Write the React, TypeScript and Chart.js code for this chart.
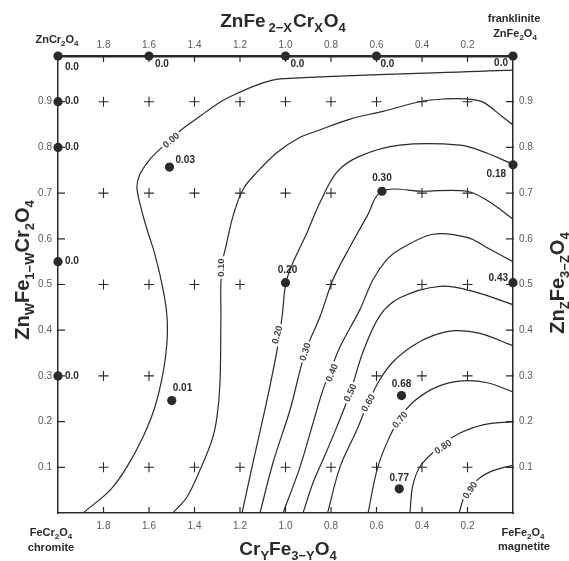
import React, { useEffect, useRef } from 'react';
import { Chart, registerables } from 'chart.js';

Chart.register(...registerables);

const FONT = '"Liberation Sans", Arial, Helvetica, sans-serif';
const INK = '#2a2a2a';

// ---- axis ticks ----
const xTickValues = [1.8, 1.6, 1.4, 1.2, 1.0, 0.8, 0.6, 0.4, 0.2];
const yTickValues = [0.1, 0.2, 0.3, 0.4, 0.5, 0.6, 0.7, 0.8, 0.9];

// ---- measured compositions (filled circles) ----
const dotX = [2.0, 1.6, 1.0, 0.6, 0.0, 2.0, 2.0, 2.0, 2.0, 1.51, 1.5, 0.576, 1.0, 0.0, 0.0, 0.49, 0.5];
const dotY = [1.0, 1.0, 1.0, 1.0, 1.0, 0.9, 0.8, 0.55, 0.3, 0.757, 0.246, 0.704, 0.504, 0.762, 0.504, 0.257, 0.053];
const dotLabels = ['0.0', '0.0', '0.0', '0.0', '0.0', '0.0', '0.0', '0.0', '0.0', '0.03', '0.01', '0.30', '0.20', '0.18', '0.43', '0.68', '0.77'];

// ---- grid nodes (+) ----
const crossX = [
  1.8, 1.6, 1.4, 1.2, 1.0, 0.8, 0.6, 0.4, 0.2,
  1.8, 1.6, 1.4, 1.2, 1.0, 0.8, 0.4, 0.2,
  1.8, 1.6, 1.4, 1.2, 0.8, 0.4, 0.2,
  1.8, 1.6, 0.6, 0.4, 0.2,
  1.8, 1.6, 1.4, 1.2, 1.0, 0.8, 0.6, 0.4, 0.2,
];
const crossY = [
  0.9, 0.9, 0.9, 0.9, 0.9, 0.9, 0.9, 0.9, 0.9,
  0.7, 0.7, 0.7, 0.7, 0.7, 0.7, 0.7, 0.7,
  0.5, 0.5, 0.5, 0.5, 0.5, 0.5, 0.5,
  0.3, 0.3, 0.3, 0.3, 0.3,
  0.1, 0.1, 0.1, 0.1, 0.1, 0.1, 0.1, 0.1, 0.1,
];

// ---- contour lines ----
const contourLevels = ['0.00', '0.10', '0.20', '0.30', '0.40', '0.50', '0.60', '0.70', '0.80', '0.90'];
const contour000: number[][] = [[1.890, 0], [1.771, 0.050], [1.697, 0.101], [1.626, 0.167], [1.574, 0.232], [1.538, 0.307], [1.521, 0.373], [1.521, 0.430], [1.538, 0.489], [1.574, 0.566], [1.609, 0.621], [1.633, 0.664], [1.653, 0.712], [1.640, 0.741], [1.596, 0.774], [1.543, 0.800], [1.464, 0.836], [1.376, 0.868], [1.288, 0.899], [1.200, 0.921], [1.112, 0.939], [1.024, 0.950], [0, 0.969]];
const contour010: number[][] = [[1.495, 0], [1.433, 0.035], [1.376, 0.094], [1.323, 0.160], [1.301, 0.211], [1.288, 0.285], [1.284, 0.430], [1.284, 0.504], [1.275, 0.555], [1.262, 0.583], [1.231, 0.649], [1.187, 0.708], [1.125, 0.746], [1.037, 0.789], [0.936, 0.822], [0.862, 0.836], [0.716, 0.862], [0.571, 0.879], [0.400, 0.901], [0.299, 0.906], [0.202, 0.906], [0.132, 0.899], [0.044, 0.866], [0, 0.849]];
const contour020: number[][] = [[1.191, 0], [1.143, 0.110], [1.081, 0.248], [1.037, 0.357], [1.015, 0.430], [0.998, 0.504], [0.967, 0.548], [0.905, 0.614], [0.848, 0.680], [0.774, 0.746], [0.673, 0.781], [0.497, 0.805], [0.233, 0.805], [0.123, 0.789], [0, 0.763]];
const contour030: number[][] = [[1.112, 0], [1.055, 0.110], [0.980, 0.226], [0.914, 0.351], [0.848, 0.430], [0.791, 0.511], [0.716, 0.583], [0.642, 0.649], [0.576, 0.704], [0.396, 0.704], [0.202, 0.704], [0.101, 0.680], [0, 0.643]];
const contour040: number[][] = [[1.011, 0], [0.936, 0.101], [0.879, 0.197], [0.835, 0.270], [0.796, 0.320], [0.760, 0.364], [0.673, 0.445], [0.615, 0.511], [0.554, 0.555], [0.497, 0.577], [0.352, 0.610], [0.202, 0.603], [0.101, 0.577], [0, 0.550]];
const contour050: number[][] = [[0.923, 0], [0.879, 0.066], [0.826, 0.127], [0.774, 0.189], [0.716, 0.263], [0.659, 0.353], [0.585, 0.432], [0.497, 0.471], [0.321, 0.496], [0.176, 0.485], [0, 0.456]];
const contour060: number[][] = [[0.815, 0], [0.760, 0.101], [0.686, 0.182], [0.637, 0.241], [0.585, 0.292], [0.527, 0.331], [0.440, 0.366], [0.352, 0.388], [0.255, 0.399], [0.145, 0.393], [0, 0.366]];
const contour070: number[][] = [[0.637, 0], [0.598, 0.094], [0.554, 0.154], [0.497, 0.208], [0.431, 0.246], [0.334, 0.276], [0.224, 0.289], [0.114, 0.285], [0, 0.265]];
const contour080: number[][] = [[0.453, 0], [0.440, 0.061], [0.404, 0.105], [0.308, 0.151], [0.233, 0.175], [0.132, 0.193], [0, 0.200]];
const contour090: number[][] = [[0.237, 0], [0.211, 0.039], [0.158, 0.072], [0.101, 0.090], [0, 0.105]];
const contours = [contour000, contour010, contour020, contour030, contour040, contour050, contour060, contour070, contour080, contour090];

// contour label anchors (data coords)
const contourLabelX = [1.503, 1.284, 1.037, 0.914, 0.796, 0.716, 0.637, 0.497, 0.308, 0.189];
const contourLabelY = [0.816, 0.537, 0.390, 0.353, 0.307, 0.263, 0.241, 0.204, 0.145, 0.050];

// ---- styling for annotations ----
const contourLabelAngles = [-40, -90, -75, -72, -68, -65, -60, -50, -33, -55];
const dotLabelStyle: { dx: number; dy: number; align: CanvasTextAlign }[] = [
  { dx: 7, dy: 11, align: 'left' },
  { dx: 6, dy: 8, align: 'left' },
  { dx: 5, dy: 8, align: 'left' },
  { dx: 4, dy: 8, align: 'left' },
  { dx: -5, dy: 7, align: 'right' },
  { dx: 7, dy: 0, align: 'left' },
  { dx: 7, dy: 0, align: 'left' },
  { dx: 7, dy: 0, align: 'left' },
  { dx: 7, dy: 0, align: 'left' },
  { dx: 6, dy: -7, align: 'left' },
  { dx: 1, dy: -12, align: 'left' },
  { dx: 0, dy: -13, align: 'center' },
  { dx: 2, dy: -12, align: 'center' },
  { dx: -7, dy: 9, align: 'right' },
  { dx: -5, dy: -4, align: 'right' },
  { dx: 0, dy: -11, align: 'center' },
  { dx: 0, dy: -11, align: 'center' },
];

type Seg = { t: string; sub?: boolean; gap?: number };

function drawRich(
  ctx: CanvasRenderingContext2D,
  segs: Seg[],
  x: number,
  y: number,
  size: number,
  subSize: number,
  shift: number,
  angle = 0,
) {
  ctx.save();
  ctx.translate(x, y);
  ctx.rotate(angle);
  const mf = `bold ${size}px ${FONT}`;
  const sf = `bold ${subSize}px ${FONT}`;
  let w = 0;
  for (const s of segs) {
    ctx.font = s.sub ? sf : mf;
    w += ctx.measureText(s.t).width + (s.gap || 0);
  }
  let cx = -w / 2;
  ctx.textAlign = 'left';
  ctx.textBaseline = 'alphabetic';
  ctx.fillStyle = INK;
  for (const s of segs) {
    ctx.font = s.sub ? sf : mf;
    cx += s.gap || 0;
    ctx.fillText(s.t, cx, s.sub ? shift : 0);
    cx += ctx.measureText(s.t).width;
  }
  ctx.restore();
}

const annotationPlugin = {
  id: 'annotations',
  beforeDatasetsDraw(chart: any) {
    const { ctx, chartArea: a, scales } = chart;
    ctx.save();
    ctx.strokeStyle = INK;
    ctx.lineWidth = 1.2;
    ctx.beginPath();
    for (const v of xTickValues) {
      const px = scales.x.getPixelForValue(v);
      ctx.moveTo(px, a.bottom);
      ctx.lineTo(px, a.bottom - 6);
      ctx.moveTo(px, a.top);
      ctx.lineTo(px, a.top + 6);
    }
    for (const v of yTickValues) {
      const py = scales.y.getPixelForValue(v);
      ctx.moveTo(a.left - 1, py);
      ctx.lineTo(a.left + 7, py);
      ctx.moveTo(a.right + 1, py);
      ctx.lineTo(a.right - 7, py);
    }
    ctx.stroke();
    ctx.restore();
  },
  afterDatasetsDraw(chart: any) {
    const { ctx, scales } = chart;
    ctx.save();
    // contour labels
    for (let i = 0; i < contourLevels.length; i++) {
      const px = scales.x.getPixelForValue(contourLabelX[i]);
      const py = scales.y.getPixelForValue(contourLabelY[i]);
      ctx.save();
      ctx.translate(px, py);
      ctx.rotate((contourLabelAngles[i] * Math.PI) / 180);
      ctx.font = `bold 9.5px ${FONT}`;
      const w = ctx.measureText(contourLevels[i]).width;
      ctx.fillStyle = '#ffffff';
      ctx.fillRect(-w / 2 - 2, -5, w + 4, 10);
      ctx.fillStyle = '#444';
      ctx.textAlign = 'center';
      ctx.textBaseline = 'middle';
      ctx.fillText(contourLevels[i], 0, 0.5);
      ctx.restore();
    }
    // dot value labels
    ctx.font = `bold 10px ${FONT}`;
    ctx.fillStyle = INK;
    ctx.textBaseline = 'middle';
    for (let i = 0; i < dotLabels.length; i++) {
      const px = scales.x.getPixelForValue(dotX[i]);
      const py = scales.y.getPixelForValue(dotY[i]);
      const st = dotLabelStyle[i];
      ctx.textAlign = st.align;
      ctx.fillText(dotLabels[i], px + st.dx, py + st.dy);
    }
    ctx.restore();
  },
  afterDraw(chart: any) {
    const { ctx } = chart;
    ctx.save();
    // axis titles
    drawRich(ctx, [{ t: 'ZnFe' }, { t: '2\u2212X', sub: true, gap: 3 }, { t: 'Cr', gap: 1 }, { t: 'X', sub: true }, { t: 'O', gap: 1 }, { t: '4', sub: true }], 283, 27, 19, 13, 5);
    drawRich(ctx, [{ t: 'Cr' }, { t: 'Y', sub: true }, { t: 'Fe' }, { t: '3\u2212Y', sub: true }, { t: 'O' }, { t: '4', sub: true }], 288, 555, 19, 13, 5);
    drawRich(ctx, [{ t: 'Zn' }, { t: 'W', sub: true }, { t: 'Fe' }, { t: '1\u2212W', sub: true }, { t: 'Cr' }, { t: '2', sub: true }, { t: 'O' }, { t: '4', sub: true }], 29, 270, 20, 13, 5, -Math.PI / 2);
    drawRich(ctx, [{ t: 'Zn' }, { t: 'Z', sub: true }, { t: 'Fe' }, { t: '3\u2212Z', sub: true }, { t: 'O' }, { t: '4', sub: true }], 564, 283, 20, 13, 5, -Math.PI / 2);
    // end-member labels
    drawRich(ctx, [{ t: 'ZnCr' }, { t: '2', sub: true }, { t: 'O' }, { t: '4', sub: true }], 57, 43, 11, 8, 3);
    drawRich(ctx, [{ t: 'franklinite' }], 514, 22, 11, 8, 3);
    drawRich(ctx, [{ t: 'ZnFe' }, { t: '2', sub: true }, { t: 'O' }, { t: '4', sub: true }], 515, 37, 11, 8, 3);
    drawRich(ctx, [{ t: 'FeCr' }, { t: '2', sub: true }, { t: 'O' }, { t: '4', sub: true }], 51, 536, 11, 8, 3);
    drawRich(ctx, [{ t: 'chromite' }], 51, 551, 11, 8, 3);
    drawRich(ctx, [{ t: 'FeFe' }, { t: '2', sub: true }, { t: 'O' }, { t: '4', sub: true }], 523, 536, 11, 8, 3);
    drawRich(ctx, [{ t: 'magnetite' }], 524, 550, 11, 8, 3);
    ctx.restore();
  },
};

function axis(position: string, isX: boolean, size: number, borderWidth: number, padding: number) {
  return {
    type: 'linear',
    position,
    min: 0,
    max: isX ? 2 : 1,
    reverse: isX,
    afterFit: (s: any) => {
      if (isX) s.height = size;
      else s.width = size;
    },
    afterBuildTicks: (s: any) => {
      s.ticks = (isX ? xTickValues : yTickValues).map((v) => ({ value: v }));
    },
    ticks: {
      autoSkip: false,
      maxRotation: 0,
      padding,
      color: '#5a5a5a',
      font: { family: FONT, size: 10 },
      callback: (v: any) => Number(v).toFixed(1),
    },
    grid: { display: true, drawOnChartArea: false, drawTicks: false },
    border: { display: true, color: INK, width: borderWidth },
  };
}

export default function App() {
  const ref = useRef<HTMLCanvasElement | null>(null);
  useEffect(() => {
    document.body.style.margin = '0';
    const canvas = ref.current;
    if (!canvas) return;
    const contourSets = contours.map((c, i) => ({
      label: 'contour ' + contourLevels[i],
      data: c.map(([x, y]) => ({ x, y })),
      showLine: true,
      borderColor: INK,
      borderWidth: 1.2,
      pointRadius: 0,
      tension: 0.35,
      fill: false,
    }));
    const chart = new Chart(canvas, {
      type: 'scatter',
      data: {
        datasets: [
          {
            label: 'samples',
            data: dotX.map((x, i) => ({ x, y: dotY[i] })),
            pointStyle: 'circle',
            pointRadius: 4.6,
            backgroundColor: INK,
            borderColor: INK,
            borderWidth: 0,
            clip: false,
          },
          {
            label: 'grid',
            data: crossX.map((x, i) => ({ x, y: crossY[i] })),
            pointStyle: 'cross',
            pointRadius: 5,
            borderColor: INK,
            borderWidth: 1.1,
          },
          ...contourSets,
        ] as any,
      },
      options: {
        animation: false,
        responsive: false,
        events: [],
        layout: { padding: 0 },
        plugins: { legend: { display: false }, tooltip: { enabled: false } },
        scales: {
          x: axis('bottom', true, 48, 1.5, 7),
          x2: axis('top', true, 56, 2.5, 5),
          y: axis('left', false, 58, 1.5, 6),
          y2: axis('right', false, 56, 1.5, 6),
        } as any,
      },
      plugins: [annotationPlugin],
    });
    return () => chart.destroy();
  }, []);
  return (
    <div style={{ position: 'absolute', left: 0, top: 0, width: 569, height: 561, background: '#fff' }}>
      <canvas ref={ref} width={569} height={561} style={{ width: 569, height: 561, display: 'block' }} />
    </div>
  );
}
